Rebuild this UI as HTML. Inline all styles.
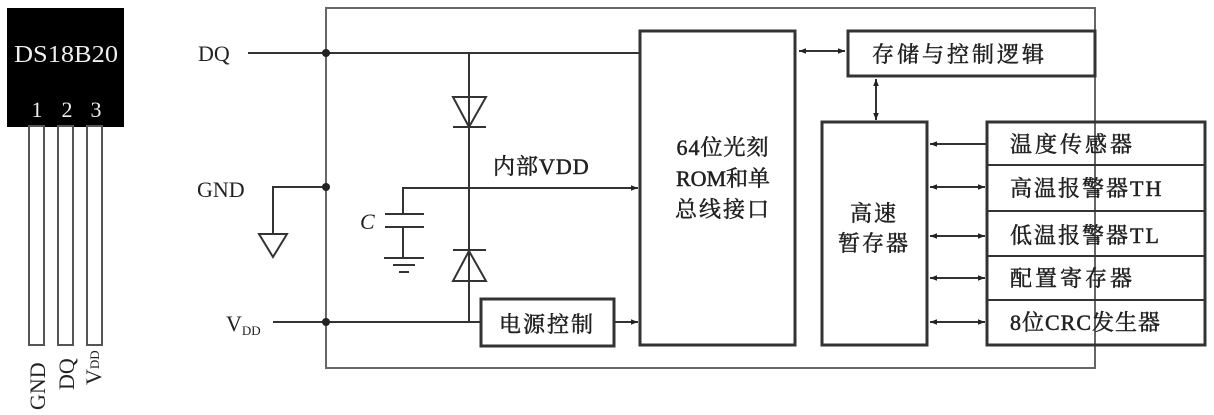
<!DOCTYPE html>
<html><head><meta charset="utf-8"><style>
html,body{margin:0;padding:0;background:#fff;}
svg{display:block;}
text{font-family:"Liberation Serif","Noto Serif CJK SC","Noto Sans CJK SC",serif;fill:#222;}
.c{stroke:#222;stroke-width:0.5;}
</style></head><body>
<svg width="1214" height="415" viewBox="0 0 1214 415" xmlns="http://www.w3.org/2000/svg">
<defs>
<marker id="a" viewBox="0 0 10 10" refX="10" refY="5" markerWidth="10" markerHeight="7" orient="auto-start-reverse" markerUnits="userSpaceOnUse"><path d="M0,1 L10,5 L0,9 z" fill="#222"/></marker>
</defs>
<g stroke="#333" stroke-width="2" fill="none">
<rect x="8" y="9" width="115" height="117" fill="#000" stroke="#000"/>
<rect x="29" y="126" width="15" height="219" stroke="#555"/>
<rect x="58" y="126" width="15" height="219" stroke="#555"/>
<rect x="87" y="126" width="15" height="219" stroke="#555"/>
<rect x="326" y="8" width="769" height="360" stroke="#666"/>
<line x1="248" y1="53" x2="640" y2="53"/>
<polyline points="326,187 273,187 273,234"/>
<path d="M259,234 L287,234 L273,257 Z"/>
<line x1="273" y1="322" x2="481" y2="322"/>
<line x1="469" y1="53" x2="469" y2="322"/>
<path d="M453,97 L486,97 L469,127 Z"/>
<line x1="453" y1="127" x2="486" y2="127"/>
<path d="M453,281 L486,281 L469,251 Z"/>
<line x1="453" y1="250" x2="486" y2="250"/>
<polyline points="403,214 403,188 638,188" marker-end="url(#a)"/>
<line x1="385" y1="214" x2="424" y2="214"/>
<line x1="385" y1="227" x2="424" y2="227"/>
<line x1="403" y1="227" x2="403" y2="258"/>
<line x1="384" y1="258" x2="424" y2="258"/>
<line x1="393" y1="265" x2="415" y2="265"/>
<line x1="399" y1="272" x2="409" y2="272"/>
<rect x="481" y="299" width="133" height="47" stroke-width="3"/>
<line x1="614" y1="322" x2="638" y2="322" marker-end="url(#a)"/>
<rect x="640" y="31" width="155" height="314" stroke-width="3"/>
<rect x="848" y="31" width="247" height="45" stroke-width="3"/>
<line x1="799" y1="51" x2="845" y2="51" marker-start="url(#a)" marker-end="url(#a)"/>
<line x1="876" y1="79" x2="876" y2="120" marker-start="url(#a)" marker-end="url(#a)"/>
<rect x="822" y="122" width="105" height="223" stroke-width="3"/>
<rect x="987" y="122" width="218" height="223" stroke-width="3"/>
<line x1="987" y1="165" x2="1205" y2="165"/>
<line x1="987" y1="211" x2="1205" y2="211"/>
<line x1="987" y1="256" x2="1205" y2="256"/>
<line x1="987" y1="300" x2="1205" y2="300"/>
<line x1="986" y1="144" x2="930" y2="144" marker-end="url(#a)"/>
<line x1="930" y1="187" x2="985" y2="187" marker-start="url(#a)" marker-end="url(#a)"/>
<line x1="930" y1="236" x2="985" y2="236" marker-start="url(#a)" marker-end="url(#a)"/>
<line x1="930" y1="278" x2="985" y2="278" marker-start="url(#a)" marker-end="url(#a)"/>
<line x1="930" y1="322" x2="985" y2="322" marker-start="url(#a)" marker-end="url(#a)"/>
</g>
<g fill="#222">
<circle cx="326" cy="53" r="4"/><circle cx="326" cy="187" r="4"/><circle cx="326" cy="322" r="4"/>
</g>
<g font-size="22">
<text x="66" y="62" text-anchor="middle" font-size="24" style="fill:#eee" textLength="104" lengthAdjust="spacingAndGlyphs">DS18B20</text>
<text x="37" y="117" text-anchor="middle" style="fill:#eee">1</text>
<text x="67" y="117" text-anchor="middle" style="fill:#eee">2</text>
<text x="96" y="117" text-anchor="middle" style="fill:#eee">3</text>
<text transform="translate(45,410) rotate(-90)">GND</text>
<text transform="translate(74,390) rotate(-90)">DQ</text>
<text transform="translate(101,385) rotate(-90)">V<tspan font-size="13" dy="-2">DD</tspan></text>
<text x="198" y="61">DQ</text>
<text x="197" y="197">GND</text>
<text x="226" y="331">V<tspan font-size="13" dy="4">DD</tspan></text>
<text x="360" y="229" font-style="italic">C</text>
</g>
<g font-size="22" class="c">
<text x="493" y="174" letter-spacing="1">内部VDD</text>
<text x="547" y="332" text-anchor="middle" letter-spacing="2">电源控制</text>
<text x="723" y="155" text-anchor="middle" letter-spacing="1">64位光刻</text>
<text x="723" y="186" text-anchor="middle">ROM和单</text>
<text x="723" y="217" text-anchor="middle" letter-spacing="2">总线接口</text>
<text x="872" y="62" letter-spacing="3">存储与控制逻辑</text>
<text x="874" y="221" text-anchor="middle" letter-spacing="2">高速</text>
<text x="874" y="251" text-anchor="middle" letter-spacing="2">暂存器</text>
<text x="1010" y="152" letter-spacing="3">温度传感器</text>
<text x="1010" y="196" letter-spacing="2">高温报警器TH</text>
<text x="1010" y="243" letter-spacing="2">低温报警器TL</text>
<text x="1010" y="286" letter-spacing="3">配置寄存器</text>
<text x="1010" y="330" letter-spacing="1">8位CRC发生器</text>
</g>
</svg>
</body></html>
